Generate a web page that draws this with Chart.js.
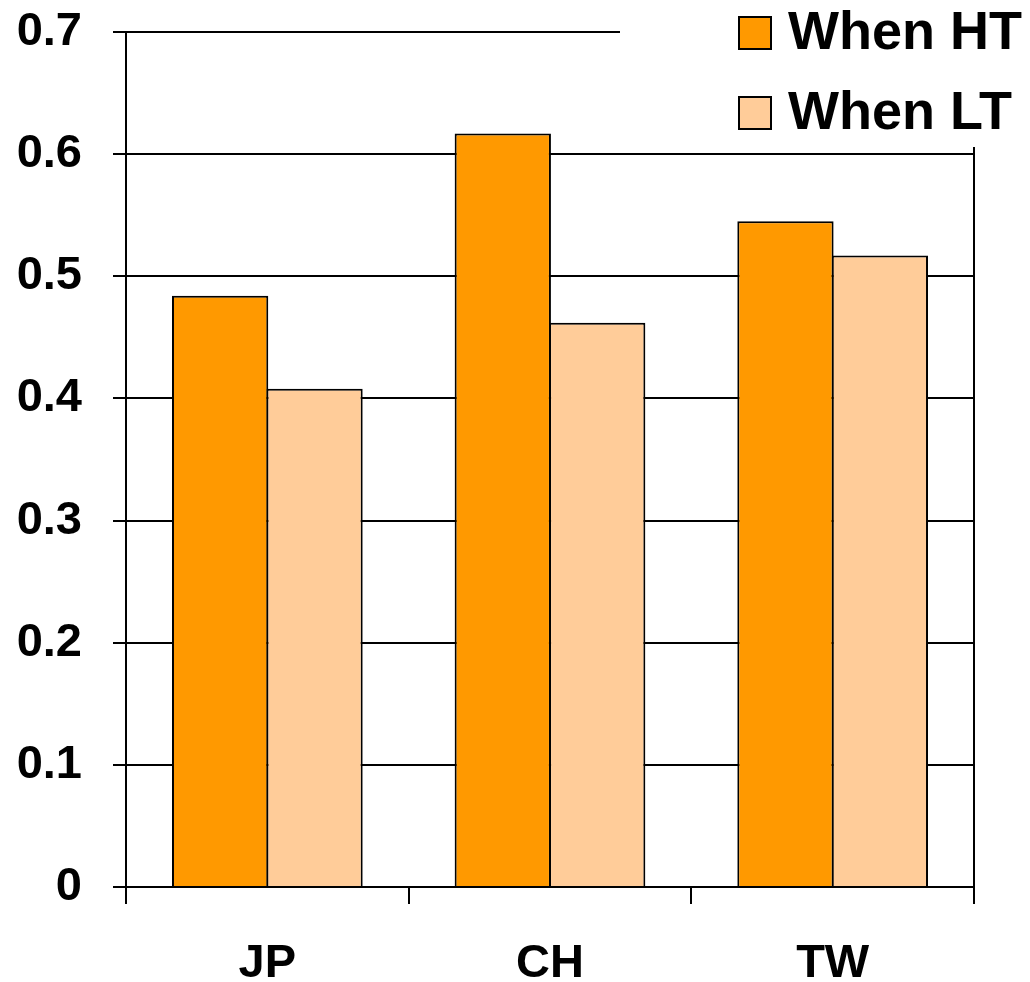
<!DOCTYPE html>
<html>
<head>
<meta charset="utf-8">
<script src="https://cdn.jsdelivr.net/npm/chart.js@4/dist/chart.umd.min.js"></script>
<style>
  html, body { margin: 0; padding: 0; background: #ffffff; }
  #wrap { width: 1030px; height: 982px; }
</style>
</head>
<body>
<div id="wrap"><canvas id="c" width="1030" height="982"></canvas></div>
<script>
const categories = ['JP', 'CH', 'TW'];
const seriesNames = ['When HT', 'When LT'];
const whenHT = [0.484, 0.617, 0.545];
const whenLT = [0.408, 0.462, 0.517];
const yTickLabels = ['0', '0.1', '0.2', '0.3', '0.4', '0.5', '0.6', '0.7'];
const seriesColors = ['#FF9900', '#FFCC99'];

const FONT = '"Liberation Sans", Arial, Helvetica, sans-serif';

const overlayPlugin = {
  id: 'overlay',
  afterDraw(chart) {
    const ctx = chart.ctx;
    const a = chart.chartArea;
    ctx.save();
    ctx.strokeStyle = '#000';
    ctx.lineWidth = 2;
    ctx.beginPath();
    ctx.moveTo(a.right, a.top);
    ctx.lineTo(a.right, a.bottom);
    ctx.stroke();
    ctx.fillStyle = '#ffffff';
    ctx.fillRect(620, 0, 410, 147);
    const ds = chart.data.datasets;
    const rows = [33, 113];
    ctx.font = 'bold 54px ' + FONT;
    ctx.textBaseline = 'middle';
    ctx.textAlign = 'left';
    ds.forEach((d, i) => {
      const cy = rows[i];
      ctx.fillStyle = d.backgroundColor;
      ctx.fillRect(739, cy - 16, 32, 32);
      ctx.strokeStyle = '#000';
      ctx.lineWidth = 2;
      ctx.strokeRect(739, cy - 16, 32, 32);
      ctx.fillStyle = '#000';
      ctx.fillText(d.label, 788, cy + 1);
    });
    ctx.restore();
  }
};

new Chart(document.getElementById('c'), {
  type: 'bar',
  data: {
    labels: categories,
    datasets: [
      { label: seriesNames[0], data: whenHT, backgroundColor: seriesColors[0], borderColor: '#000', borderWidth: 2 },
      { label: seriesNames[1], data: whenLT, backgroundColor: seriesColors[1], borderColor: '#000', borderWidth: 2 }
    ]
  },
  options: {
    responsive: false,
    animation: false,
    devicePixelRatio: 1,
    layout: { padding: { left: 0, right: 56, top: 32, bottom: 0 } },
    categoryPercentage: 0.668,
    barPercentage: 1.02,
    plugins: {
      legend: { display: false },
      tooltip: { enabled: false }
    },
    scales: {
      x: {
        offset: true,
        grid: {
          offset: true,
          drawOnChartArea: false,
          drawTicks: true,
          tickLength: 17,
          color: '#000',
          lineWidth: 2
        },
        border: { display: true, color: '#000', width: 2 },
        ticks: {
          color: '#000',
          font: { family: FONT, size: 47, weight: 'bold' },
          padding: 32,
          maxRotation: 0
        },
        afterFit(scale) { scale.height = 95; scale.paddingLeft = 0; scale.paddingRight = 0; }
      },
      y: {
        min: 0,
        max: 0.7,
        grid: {
          color: '#000',
          lineWidth: 2,
          drawTicks: true,
          tickLength: 13
        },
        border: { display: true, color: '#000', width: 2 },
        ticks: {
          stepSize: 0.1,
          color: '#000',
          font: { family: FONT, size: 47, weight: 'bold' },
          padding: 31,
          callback: (v, i) => yTickLabels[i]
        },
        afterFit(scale) { scale.width = 126; scale.paddingTop = 0; scale.paddingBottom = 0; }
      }
    }
  },
  plugins: [overlayPlugin]
});
</script>
</body>
</html>
